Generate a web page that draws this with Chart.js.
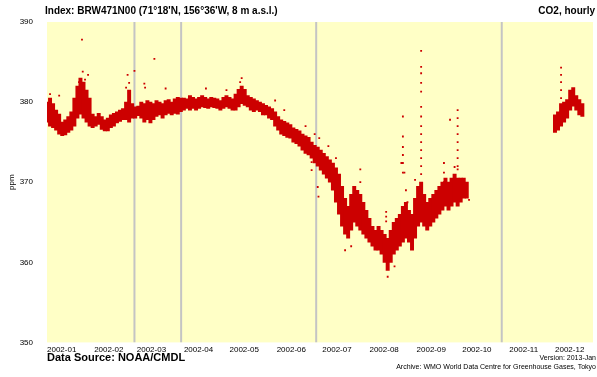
<!DOCTYPE html>
<html>
<head>
<meta charset="utf-8">
<script src="https://cdn.jsdelivr.net/npm/chart.js@4"></script>
<style>
  html, body { margin: 0; padding: 0; background: #fff; }
</style>
</head>
<body>
<canvas id="co2Chart" width="597" height="377"></canvas>
<script>
// day of year 2002 (0 = Jan 1)
const monthStarts = [0, 31, 59, 90, 120, 151, 181, 212, 243, 273, 304, 334];
const monthLabels = ["2002-01", "2002-02", "2002-03", "2002-04", "2002-05", "2002-06",
                     "2002-07", "2002-08", "2002-09", "2002-10", "2002-11", "2002-12"];
const yTicks = [350, 360, 370, 380, 390];

// hourly cloud, read as a min/max band every 2 days (ppm)
const bandDays = [0, 2, 4, 6, 8, 10, 12, 14, 16, 18, 20, 22, 24, 26, 28, 30, 32, 34, 36, 38,
  40, 42, 44, 46, 48, 50, 52, 54, 56, 58, 60, 62, 64, 66, 68, 70, 72, 74, 76, 78,
  80, 82, 84, 86, 88, 90, 92, 94, 96, 98, 100, 102, 104, 106, 108, 110, 112, 114, 116, 118,
  120, 122, 124, 126, 128, 130, 132, 134, 136, 138, 140, 142, 144, 146, 148, 150, 152, 154, 156, 158,
  160, 162, 164, 166, 168, 170, 172, 174, 176, 178, 180, 182, 184, 186, 188, 190, 192, 194, 196, 198,
  200, 202, 204, 206, 208, 210, 212, 214, 216, 218, 220, 222, 224, 226, 228, 230, 232, 234, 236, 238,
  240, 242, 244, 246, 248, 250, 252, 254, 256, 258, 260, 262, 264, 266, 268, 270, 272, 274, 276,
  334, 336, 338, 340, 342, 344, 346, 348, 350, 352];
const bandLow = [377.5, 377.0, 376.8, 376.5, 376.0, 375.8, 375.9, 376.2, 376.5, 377.0, 378.0, 378.5, 378.0, 377.5, 377.0, 376.8, 377.0, 377.2, 376.6, 376.4,
  376.4, 376.8, 377.0, 377.4, 377.6, 377.8, 377.8, 377.5, 378.0, 378.0, 378.3, 378.0, 377.5, 377.8, 377.4, 377.8, 378.2, 378.4, 378.0, 378.4,
  378.6, 378.4, 378.6, 378.5, 378.8, 379.0, 379.2, 379.0, 379.2, 379.0, 379.2, 379.4, 379.3, 379.2, 379.4, 379.3, 379.2, 379.0, 379.2, 379.4,
  379.2, 379.0, 379.0, 379.4, 379.8, 379.6, 379.4, 379.0, 378.8, 379.0, 378.8, 378.4, 378.4, 378.0, 377.8, 377.0, 376.5, 376.0, 375.8, 375.6,
  375.5, 375.0, 374.8, 374.5, 374.0, 373.6, 373.4, 373.0, 372.4, 372.0, 371.5, 371.0, 370.5, 370.0, 369.0, 367.5, 366.0, 364.5, 363.5, 363.0,
  364.0, 365.0, 364.5, 364.0, 363.5, 363.0, 362.5, 362.0, 361.5, 361.5, 361.0, 360.0, 359.0, 360.0, 361.0, 361.5, 362.0, 362.5, 363.0, 362.5,
  361.5, 363.0, 364.5, 365.0, 364.5, 364.0, 364.5, 365.0, 365.5, 366.0, 366.5, 367.0, 366.5, 367.0, 367.5, 367.0, 367.5, 368.0, 368.0,
  376.2, 376.5, 377.0, 377.5, 378.0, 379.0, 379.5, 379.0, 378.4, 378.2];
const bandHigh = [380.0, 380.5, 379.8, 379.0, 378.5, 377.5, 377.8, 378.2, 378.8, 380.5, 382.0, 383.0, 382.5, 381.5, 380.5, 378.5, 378.2, 378.6, 378.2, 377.8,
  378.0, 378.4, 378.6, 378.8, 379.0, 379.2, 380.0, 381.5, 379.8, 379.4, 379.5, 380.0, 379.8, 380.2, 380.0, 379.8, 380.2, 380.0, 379.8, 380.2,
  380.3, 380.0, 380.4, 380.6, 380.5, 380.5, 380.4, 380.8, 380.6, 380.4, 380.6, 380.8, 380.6, 380.4, 380.6, 380.5, 380.4, 380.2, 380.6, 380.8,
  380.6, 380.4, 381.0, 381.6, 382.0, 381.6, 380.8, 380.6, 380.4, 380.2, 380.0, 379.8, 379.6, 379.4, 379.2, 378.8, 378.2, 377.8, 377.6, 377.4,
  377.2, 376.8, 376.6, 376.4, 376.0, 375.8, 375.6, 375.0, 374.6, 374.4, 374.0, 373.6, 373.2, 372.8, 372.4, 371.8, 371.0, 369.5, 368.0, 367.0,
  368.5, 369.5, 369.0, 368.5, 367.5, 366.5, 365.5, 364.5, 364.0, 364.5, 364.0, 363.5, 363.0, 364.0, 365.0, 365.5, 366.0, 367.0, 367.5, 366.5,
  366.0, 368.0, 369.5, 370.0, 368.5, 367.5, 368.0, 368.5, 369.0, 369.5, 370.0, 370.5, 370.0, 370.5, 371.0, 370.5, 370.5, 370.5, 370.0,
  378.4, 378.8, 379.8, 380.0, 380.3, 381.5, 381.8, 380.8, 380.3, 379.8];

// isolated hourly values and spikes outside the band
const spikeDays = [2, 8, 21, 23, 23.5, 25, 27, 52, 53, 54, 57.5, 64, 64.5, 70.6, 78, 104.5, 118, 127, 128, 150,
  156, 170, 174, 174, 174, 176, 178, 178.5, 179, 185, 190, 196, 200, 206, 206, 223, 223, 223, 224, 224,
  228.5, 233, 234, 234, 234, 234, 234, 234, 235, 236, 237,
  242, 244, 246, 246, 246, 246, 246, 246, 246, 246, 246, 246, 246, 246, 246, 246,
  261, 261, 261, 265, 268, 268, 270, 270, 270, 270, 270, 270, 270, 270, 270, 277.5,
  338, 338, 338, 338, 338];
const spikeVals = [381.0, 380.8, 382.5, 387.8, 383.8, 382.8, 383.4, 381.8, 383.4, 382.4, 383.9, 382.3, 381.8, 385.4, 381.7, 381.7, 381.5, 382.5, 383.0, 380.2,
  379.0, 377.0, 373.5, 372.5, 371.5, 376.0, 369.4, 368.2, 375.5, 374.5, 373.0, 361.5, 362.0, 371.6, 370.0, 366.3, 365.7, 365.1, 359.5, 358.2,
  359.5, 372.4, 378.2, 375.7, 374.4, 373.4, 372.4, 371.2, 371.2, 369.0, 367.5,
  370.3, 369.0, 386.4, 384.4, 383.6, 382.4, 381.3, 379.4, 378.2, 377.0, 376.0, 375.0, 374.0, 373.0, 372.0, 371.0,
  372.4, 371.2, 370.0, 377.8, 371.9, 370.7, 379.0, 378.0, 377.0, 376.0, 375.0, 374.0, 373.0, 372.0, 371.6, 367.8,
  384.3, 383.4, 382.5, 381.5, 380.5];

// grey vertical markers
const markerDays = [57.5, 88.2, 177, 299];

const red = "#cc0000";
const font = "'Liberation Sans', Arial, sans-serif";

const bandData = bandDays.map((d, i) => ({ x: d, y: [bandLow[i], bandHigh[i]] }));
const spikeData = spikeDays.map((d, i) => ({ x: d, y: spikeVals[i] }));

const markerSets = markerDays.map(d => ({
    type: "line",
    data: [{ x: d, y: 350 }, { x: d, y: 390 }],
    borderColor: "#c4c4c4",
    borderWidth: 2,
    pointRadius: 0,
    order: 3
}));

// yellow plot area and the header / footer texts
const decor = {
    id: "decor",
    beforeDraw(chart) {
        const { ctx, chartArea: a } = chart;
        ctx.save();
        ctx.fillStyle = "#ffffc6";
        ctx.fillRect(a.left, a.top, a.right - a.left, a.bottom - a.top);
        ctx.restore();
    },
    afterDraw(chart) {
        const ctx = chart.ctx;
        ctx.save();
        ctx.fillStyle = "#000";
        ctx.textBaseline = "middle";
        ctx.font = "bold 10px " + font;
        ctx.textAlign = "left";
        ctx.fillText("Index: BRW471N00 (71°18'N, 156°36'W, 8 m a.s.l.)", 45, 11);
        ctx.textAlign = "right";
        ctx.fillText("CO2, hourly", 595, 11);
        ctx.font = "bold 11px " + font;
        ctx.textAlign = "left";
        ctx.fillText("Data Source: NOAA/CMDL", 47, 358);
        ctx.font = "7px " + font;
        ctx.textAlign = "right";
        ctx.fillText("Version: 2013-Jan", 596, 358);
        ctx.fillText("Archive: WMO World Data Centre for Greenhouse Gases, Tokyo", 596, 367);
        ctx.restore();
    }
};

new Chart(document.getElementById("co2Chart"), {
    type: "bar",
    data: {
        datasets: [
            {
                type: "scatter",
                data: spikeData,
                backgroundColor: red,
                borderWidth: 0,
                pointStyle: "rect",
                pointRadius: 1.3,
                order: 1
            },
            {
                type: "bar",
                data: bandData,
                backgroundColor: red,
                borderWidth: 0,
                barThickness: 3.3,
                order: 2
            },
            ...markerSets
        ]
    },
    options: {
        responsive: false,
        animation: false,
        layout: { padding: { top: 22, right: 0, bottom: 19, left: 0 } },
        plugins: { legend: { display: false }, tooltip: { enabled: false } },
        scales: {
            x: {
                type: "linear",
                offset: false,
                min: 0,
                max: 359,
                grid: { display: false, drawTicks: false },
                border: { display: false },
                afterBuildTicks: scale => {
                    scale.ticks = monthStarts.map(v => ({ value: v }));
                },
                ticks: {
                    display: true,
                    align: "start",
                    padding: 3,
                    maxRotation: 0,
                    autoSkip: false,
                    color: "#000",
                    font: { family: font, size: 8 },
                    callback: v => monthLabels[monthStarts.indexOf(v)]
                }
            },
            y: {
                min: 350,
                max: 390,
                grid: { display: false },
                border: { display: false },
                afterBuildTicks: scale => {
                    scale.ticks = yTicks.map(v => ({ value: v }));
                },
                afterFit: scale => { scale.width = 47; },
                title: {
                    display: true,
                    text: "ppm",
                    color: "#000",
                    font: { family: font, size: 8 },
                    padding: { top: 7, bottom: 0 }
                },
                ticks: {
                    padding: 6,
                    color: "#000",
                    font: { family: font, size: 8 }
                }
            }
        }
    },
    plugins: [decor]
});
</script>
</body>
</html>
